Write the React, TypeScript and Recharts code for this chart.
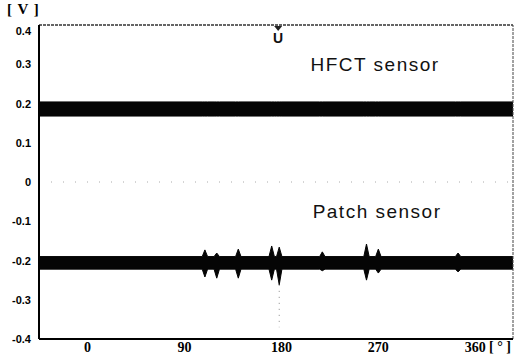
import { ComposedChart, Area, XAxis, YAxis, ReferenceLine, ReferenceDot } from "recharts";

// phase axis [deg] and voltage axis [V]
const xTicks = [0, 90, 180, 270, 360];
const yTicks = [0.4, 0.3, 0.2, 0.1, 0, -0.1, -0.2, -0.3, -0.4];
const xRange = [-45, 395];

// HFCT noise band (min, max)
const hfctBand = [0.168, 0.204];

// patch sensor noise band and PD bursts
const patchBand = [-0.222, -0.19];
const burstAngles = [109, 120, 140, 171, 178, 218, 259, 270, 344];
const burstTops = [-0.173, -0.181, -0.171, -0.163, -0.166, -0.178, -0.158, -0.171, -0.181];
const burstBottoms = [-0.242, -0.245, -0.245, -0.25, -0.262, -0.226, -0.25, -0.232, -0.229];
const burstHalfWidth = 2.5;

const cursorAngle = 177;

const rows: { deg: number; hfct: number[]; patch: number[] }[] = [];
rows.push({ deg: xRange[0], hfct: hfctBand, patch: patchBand });
burstAngles.forEach((a, i) => {
  rows.push({ deg: a - burstHalfWidth, hfct: hfctBand, patch: patchBand });
  rows.push({ deg: a, hfct: hfctBand, patch: [burstBottoms[i], burstTops[i]] });
  rows.push({ deg: a + burstHalfWidth, hfct: hfctBand, patch: patchBand });
});
rows.push({ deg: xRange[1], hfct: hfctBand, patch: patchBand });

const sensorLabel = (text: string) => (p: any) => (
  <text
    x={p.cx}
    y={p.cy}
    dominantBaseline="central"
    fontFamily="Liberation Sans, Arial, sans-serif"
    fontSize={19}
    letterSpacing={1.5}
    fill="#111"
  >
    {text}
  </text>
);

const cursorShape = (p: any) => (
  <g>
    <path d={`M${p.cx - 4},${p.cy + 1} L${p.cx + 4},${p.cy + 1} L${p.cx},${p.cy + 6} Z`} fill="#222" />
    <text
      x={p.cx}
      y={p.cy + 13}
      textAnchor="middle"
      dominantBaseline="central"
      fontFamily="Liberation Sans, Arial, sans-serif"
      fontWeight="bold"
      fontSize={14}
      fill="#111"
    >
      U
    </text>
  </g>
);

const YTick = (p: any) => {
  const v = p.payload.value;
  const dy = v === 0.4 ? 6 : 0;
  return (
    <text
      x={p.x}
      y={p.y + dy}
      textAnchor="end"
      dominantBaseline="central"
      fontFamily="Liberation Sans, Arial, sans-serif"
      fontWeight="bold"
      fontSize={11}
      fill="#000"
    >
      {String(v)}
    </text>
  );
};

export default function App() {
  return (
    <div style={{ position: "absolute", left: 0, top: 0, background: "#fff" }}>
      <ComposedChart
        width={525}
        height={357}
        data={rows}
        margin={{ top: 25, right: 12, bottom: 0, left: 0 }}
      >
        <XAxis
          dataKey="deg"
          type="number"
          domain={xRange}
          ticks={xTicks}
          allowDataOverflow
          height={18}
          tickLine={false}
          tickSize={0}
          tickMargin={3}
          axisLine={{ stroke: "#000", strokeWidth: 2 }}
          tick={{ fill: "#000", fontSize: 14, fontWeight: "bold", fontFamily: "Liberation Serif, serif" }}
        />
        <YAxis
          type="number"
          domain={[-0.4, 0.4]}
          ticks={yTicks}
          allowDataOverflow
          width={39}
          tickLine={false}
          tickSize={0}
          tickMargin={8}
          axisLine={{ stroke: "#000", strokeWidth: 2 }}
          tick={YTick}
        />
        <ReferenceLine y={0.4} stroke="#333" strokeWidth={1.5} strokeDasharray="3 1" />
        <ReferenceLine x={xRange[1]} stroke="#444" strokeWidth={1} strokeDasharray="3 1" />
        <ReferenceLine y={0} stroke="#aaa" strokeDasharray="1 11" />
        <ReferenceLine
          segment={[
            { x: 178, y: -0.262 },
            { x: 178, y: -0.37 },
          ]}
          stroke="#888"
          strokeDasharray="1 5"
        />
        <Area
          dataKey="hfct"
          type="linear"
          fill="#050505"
          fillOpacity={1}
          stroke="#050505"
          strokeWidth={1}
          isAnimationActive={false}
        />
        <Area
          dataKey="patch"
          type="linear"
          fill="#050505"
          fillOpacity={1}
          stroke="#050505"
          strokeWidth={1}
          isAnimationActive={false}
        />
        <ReferenceDot x={cursorAngle} y={0.4} r={0} shape={cursorShape} />
        <ReferenceDot x={207} y={0.3} r={0} shape={sensorLabel("HFCT sensor")} />
        <ReferenceDot x={209} y={-0.075} r={0} shape={sensorLabel("Patch sensor")} />
      </ComposedChart>
      <div
        style={{
          position: "absolute",
          left: 7,
          top: 1,
          fontFamily: "Liberation Serif, serif",
          fontWeight: "bold",
          fontSize: 15,
          letterSpacing: 1,
          lineHeight: "17px",
          whiteSpace: "pre",
        }}
      >
        [ V ]
      </div>
      <div
        style={{
          position: "absolute",
          left: 489,
          top: 339,
          fontFamily: "Liberation Serif, serif",
          fontWeight: "bold",
          fontSize: 14,
          lineHeight: "16px",
          whiteSpace: "pre",
        }}
      >
        [ ° ]
      </div>
    </div>
  );
}
